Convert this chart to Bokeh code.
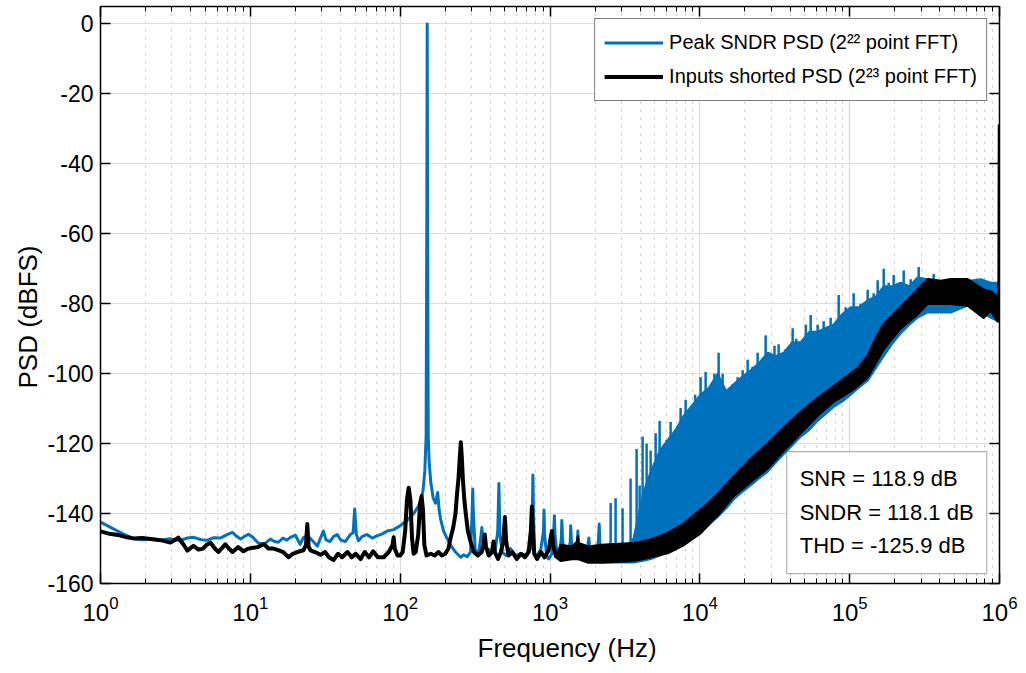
from bokeh.plotting import figure
from bokeh.models import (Range1d, FixedTicker, LogTickFormatter, LogAxis, LinearAxis,
                          Legend, LegendItem, BoxAnnotation, Label, Title,
                          CustomJSTickFormatter)
from bokeh.embed import file_html
from bokeh.resources import INLINE

FONT = "Liberation Sans"
BLUE = "#0072BD"
BLACK = "#000000"

# ---------------- data ----------------
# Peak SNDR PSD (2^22 point FFT) - low-frequency trace
sndr_hz = [1.0, 1.15, 1.3, 1.5, 1.67, 1.9, 2.2, 2.5, 2.9, 3.4, 3.8, 4.2, 4.7, 5.2, 5.7, 6.3,
           7.0, 7.6, 8.1, 8.6, 9.2, 9.7, 10.4, 11.2, 12.3, 13.6, 14.5, 15.4, 16.5, 17.5,
           18.5, 20.0, 21.5, 22.5, 24.0, 26.0, 28.0, 30.7, 32.0, 34.0, 36.0, 38.0, 40.0,
           43.0, 46.5, 48.5, 49.7, 51.0, 52.7, 56.0, 60.0, 65.0, 70.0, 76.0, 82.0, 90.5,
           100, 111, 123, 132, 137, 142, 146, 149, 150.5, 151.5, 152.5, 154, 156, 160,
           166, 172, 178, 182, 186, 195, 205, 217, 234, 254, 265, 280, 295, 302, 305,
           308, 317, 335, 345, 351, 357, 372, 400, 430, 448, 456, 463, 480, 510, 545,
           590, 640, 700, 745, 762, 769, 776, 790, 826, 870, 905, 912, 920, 950, 980,
           1030, 1060, 1070, 1080, 1120, 1160, 1190, 1200, 1215, 1270, 1330, 1365, 1375,
           1390, 1440, 1500, 1525, 1535, 1550, 1620, 1700, 1780, 1817, 1850, 1950, 2050,
           2100, 2130, 2160, 2180]
sndr_db = [-142.4, -143.8, -145.0, -146.3, -147.2, -147.5, -147.3, -147.6, -147.2, -147.7,
           -147.0, -146.8, -147.5, -147.6, -146.9, -147.0, -146.0, -145.4, -146.5, -147.3,
           -146.5, -145.9, -146.8, -148.3, -148.8, -147.3, -148.0, -148.2, -147.0, -147.6,
           -146.8, -146.2, -148.8, -147.0, -146.2, -147.8, -149.3, -145.0, -147.5, -148.0,
           -146.5, -146.0, -147.5, -148.0, -146.0, -145.5, -138.7, -146.0, -147.8, -146.5,
           -146.0, -147.0, -146.4, -145.8, -145.0, -144.6, -143.5, -142.0, -140.0, -138.0,
           -136.4, -133.5, -128.0, -118.0, -60.0, 0.0, -60.0, -118.0, -125.0, -131.0,
           -135.5, -137.0, -134.0, -139.0, -141.5, -145.0, -147.0, -149.0, -151.0, -152.5,
           -151.8, -152.3, -151.0, -140.0, -133.0, -140.0, -150.5, -151.0, -147.0, -144.0,
           -148.0, -150.0, -150.5, -151.0, -145.0, -131.4, -146.0, -151.0, -152.0, -150.0,
           -152.0, -151.5, -152.0, -150.0, -140.0, -129.0, -140.0, -151.5, -152.0, -150.0,
           -145.0, -139.0, -146.0, -152.0, -153.0, -151.5, -145.0, -140.6, -146.0, -152.5,
           -151.5, -147.0, -142.0, -148.0, -152.5, -151.0, -148.0, -143.5, -148.0, -152.5,
           -151.0, -149.0, -145.0, -149.0, -153.0, -152.0, -150.0, -147.0, -151.0, -153.0,
           -151.5, -148.0, -143.0, -151.0, -153.0]

# Peak SNDR PSD - high-frequency part: dense noise region (top / bottom edge)
sndr_fill_hz = [2180, 3000, 3615, 4200, 4700, 5400, 6100, 6900, 7800, 8900, 10100, 11500,
                13150, 15000, 16800, 19000, 21800, 24800, 28400, 32000, 36300, 41500, 47100,
                54000, 61100, 69000, 78100, 89000, 101500, 115000, 131800, 149000, 168600,
                192000, 219000, 250000, 284000, 331600, 404900, 472400, 613400, 748900,
                873700, 972800, 1000000]
sndr_fill_top = [-152, -151, -147, -134, -128, -122, -119, -116, -112, -109, -106, -104,
                 -100, -105, -103, -101, -99, -97, -94, -95, -94, -91, -91, -88, -88, -87,
                 -86, -83, -81, -81, -79, -78, -75, -75, -74, -75, -72.5, -73, -73.5, -74,
                 -73.5, -73, -74, -74, -75]
sndr_fill_bot = [-154, -154, -154, -153.5, -153, -152, -150.5, -149.5, -148, -146.5, -145,
                 -143, -141, -138.5, -136, -134, -132, -130, -128, -125.5, -123, -120.5,
                 -118, -116, -113.5, -111.5, -109.5, -108, -106, -104, -102, -98.5, -95,
                 -91.5, -88.5, -86, -84, -82.5, -82.5, -82.5, -80.5, -82.5, -84, -85, -85]

# Peak SNDR PSD - spurs rising out of the noise region (Hz, top dBFS, foot dBFS)
spur_hz = [2540, 2740, 3050, 3450, 3785, 3965, 4150, 4415, 4695, 5070, 5390, 5646, 6000,
           6385, 6788, 7100, 7443, 7797, 8039, 8682, 9300, 10123, 10932, 11808, 12500,
           13350, 14195, 16560, 17880, 19310, 20850, 22520, 24310, 25850, 27500, 29690,
           31500, 33570, 37400, 41650, 44000, 51000, 54920, 61150, 67060, 74670, 84460,
           94030, 106300, 118400, 131900, 144600, 153800, 168700, 182100, 196700, 229400,
           255500, 288800, 363700]
spur_top = [-137, -135.6, -138.5, -130, -121.5, -132, -118, -120, -122, -117, -113.5,
            -122, -119, -113.8, -120, -115, -109.8, -115, -107.5, -112, -106, -101, -99.5,
            -104, -100, -94, -100, -103, -101, -99, -96, -98, -94, -97, -89, -94, -92,
            -91.6, -93, -87, -90, -86, -83.2, -86, -85, -84, -77.5, -81, -77, -80, -76,
            -77, -73.3, -70, -74, -71.8, -70.5, -73, -69.5, -71.5]
spur_foot = [-152, -152, -152, -150, -149, -146, -145, -142, -138, -135, -133, -132, -130,
             -129, -127, -126, -124, -122, -121, -119, -117, -116, -114, -113, -111, -110,
             -110, -110, -108, -107, -105, -104, -103, -102, -101, -100, -99, -98, -97,
             -96, -95, -94, -93, -92, -91, -90, -89, -88, -86, -85, -84, -83, -82, -81,
             -80, -79, -78, -78, -77, -76]

# Inputs shorted PSD (2^23 point FFT) - low-frequency trace
short_hz = [1.0, 1.15, 1.3, 1.5, 1.66, 1.9, 2.16, 2.52, 2.93, 3.31, 3.6, 3.8, 4.17, 4.5,
            4.8, 5.1, 5.42, 5.8, 6.13, 6.8, 7.2, 7.6, 8.3, 9.0, 9.6, 10.4, 11.2, 12.3,
            13.2, 14.3, 15.5, 16.6, 17.3, 18.0, 19.2, 20.6, 22.6, 23.5, 24.0, 24.5, 25.2,
            27.0, 29.4, 31.5, 33.5, 35.9, 38.5, 41.0, 44.5, 47.5, 50.5, 54.5, 58.0, 62.0,
            66.0, 71.0, 77.5, 84.0, 89.0, 90.5, 92.0, 96.0, 100, 104, 108, 111, 114, 117,
            120, 123, 127, 132, 136, 139, 142, 145, 150, 160, 170, 180, 190, 200, 210,
            217, 226, 234, 240, 245, 250, 254, 258, 262, 268, 274, 283, 295, 310, 330,
            350, 360, 367, 374, 390, 410, 420, 428, 450, 470, 488, 500, 510, 530, 560,
            600, 640, 680, 720, 745, 757, 768, 785, 820, 870, 920, 980, 1010, 1030, 1050,
            1100]
short_db = [-145.1, -145.8, -146.1, -146.8, -147.1, -147.0, -147.3, -147.6, -148.3, -146.9,
            -149.0, -150.6, -149.2, -150.3, -150.1, -149.0, -148.3, -150.0, -151.0, -148.8,
            -150.0, -151.0, -149.6, -150.8, -150.1, -149.8, -149.6, -148.7, -150.0, -150.0,
            -150.5, -151.0, -151.8, -152.5, -151.5, -151.0, -150.5, -149.0, -143.0, -149.5,
            -150.5, -151.0, -151.8, -151.0, -152.5, -153.3, -151.5, -152.5, -151.0, -152.5,
            -151.5, -153.0, -151.0, -152.5, -150.8, -152.5, -152.5, -151.0, -149.0, -146.8,
            -150.0, -152.0, -152.0, -151.0, -145.0, -136.0, -132.6, -136.0, -147.0, -151.5,
            -151.0, -146.0, -137.0, -135.0, -139.0, -149.0, -152.0, -151.5, -152.0, -151.0,
            -152.0, -151.5, -150.0, -147.0, -144.0, -140.0, -134.0, -130.0, -124.0, -119.6,
            -124.0, -130.0, -136.0, -140.0, -145.0, -148.0, -151.0, -152.0, -151.0, -149.0,
            -146.0, -149.5, -152.0, -151.0, -148.0, -151.0, -153.0, -151.0, -148.0, -141.0,
            -148.0, -152.0, -151.0, -153.0, -151.5, -152.5, -151.0, -145.0, -138.0, -145.0,
            -151.5, -153.0, -151.0, -152.5, -150.5, -147.0, -145.0, -149.0, -152.5]

# Inputs shorted PSD - high-frequency band (lower / upper edge), tone near 1 MHz
short_band_hz = [1100, 1178, 1400, 1520, 1535, 1550, 1800, 2180, 3610, 4700, 6100, 7800,
                 10100, 13150, 16800, 21800, 28400, 36300, 47100, 61100, 78100, 101500,
                 113000, 131800, 149000, 168600, 219000, 284000, 331600, 404900, 472000,
                 613000, 784600, 873700, 972000, 986000, 992000, 998000, 1000000]
short_band_lo = [-152.5, -153.5, -153, -153, -153, -153, -154, -154, -153.5, -152.5,
                 -151.3, -149, -145.6, -140.5, -135, -131, -127, -122, -117, -112, -108,
                 -105, -103.5, -101, -97, -93, -87, -83, -80, -80, -80, -80.5, -84, -82,
                 -85, -85, -85, -85, -85]
short_band_hi = [-152.5, -149, -149.5, -148, -146.5, -148.5, -149.5, -149, -148.5, -147.5,
                 -145.6, -143, -139, -134.5, -129.5, -124.5, -120, -115.5, -111, -107,
                 -103.7, -100, -98.5, -95, -90, -86, -81, -76, -73, -73.5, -73, -73, -76,
                 -76.5, -78, -79, -29, -80, -80]

series_names = ["Peak SNDR PSD (2\u00b2\u00b2 point FFT)",
                "Inputs shorted PSD (2\u00b2\u00b3 point FFT)"]
stats_lines = ["SNR = 118.9 dB", "SNDR = 118.1 dB", "THD = -125.9 dB"]
x_title = "Frequency (Hz)"
y_title = "PSD (dBFS)"

x_major = [1, 10, 100, 1e3, 1e4, 1e5, 1e6]
x_minor = [m * d for d in x_major[:-1] for m in range(2, 10)]
y_major = list(range(-160, 1, 20))

# ---------------- figure ----------------
p = figure(width=1026, height=673, x_axis_type="log",
           x_range=Range1d(1, 1e6), y_range=Range1d(-160, 5),
           output_backend="svg", toolbar_location=None,
           min_border_left=100, min_border_right=27, min_border_top=6,
           min_border_bottom=90, background_fill_color="white",
           border_fill_color="white", outline_line_color=None)

# blue series
r_blue = p.line(sndr_hz, sndr_db, line_color=BLUE, line_width=3, line_join="round")
p.patch(sndr_fill_hz + sndr_fill_hz[::-1], sndr_fill_top + sndr_fill_bot[::-1],
        fill_color=BLUE, line_color=BLUE, line_width=2, line_join="round")
p.segment(x0=spur_hz, y0=spur_foot, x1=spur_hz, y1=spur_top,
          line_color=BLUE, line_width=2.5)
# black series
r_black = p.line(short_hz, short_db, line_color=BLACK, line_width=4, line_join="round")
p.patch(short_band_hz + short_band_hz[::-1], short_band_hi + short_band_lo[::-1],
        fill_color=BLACK, line_color=BLACK, line_width=2.5, line_join="round")

# axes
xt = FixedTicker(ticks=x_major, minor_ticks=x_minor)
yt = FixedTicker(ticks=y_major)
p.xaxis.ticker = xt
p.xaxis.formatter = LogTickFormatter()
p.yaxis.ticker = yt
p.yaxis.formatter = CustomJSTickFormatter(code="return tick.toFixed(0)")

for ax in (p.xaxis[0], p.yaxis[0]):
    ax.axis_line_color = "black"
    ax.axis_line_width = 1.5
    ax.major_tick_line_color = "black"
    ax.major_tick_line_width = 1.5
    ax.minor_tick_line_color = "black"
    ax.major_tick_in = 10
    ax.major_tick_out = 0
    ax.minor_tick_out = 0
    ax.major_label_text_font = FONT
    ax.major_label_text_color = "black"

p.xaxis.minor_tick_in = 5
p.yaxis.minor_tick_in = 0
p.xaxis.major_label_text_font_size = "24px"
p.yaxis.major_label_text_font_size = "23px"
p.xaxis.major_label_standoff = 12
p.yaxis.major_label_standoff = 7

blank = CustomJSTickFormatter(code="return ''")
top = LogAxis(ticker=xt, formatter=blank, major_tick_in=10, major_tick_out=0,
              minor_tick_in=5, minor_tick_out=0, major_label_standoff=0,
              axis_line_color="black", axis_line_width=1.5,
              major_tick_line_color="black", major_tick_line_width=1.5,
              minor_tick_line_color="black", major_label_text_font_size="0px")
right = LinearAxis(ticker=yt, formatter=blank, major_tick_in=10, major_tick_out=0,
                   minor_tick_in=0, minor_tick_out=0, major_label_standoff=0,
                   axis_line_color="black", axis_line_width=1.5,
                   major_tick_line_color="black", major_tick_line_width=1.5,
                   major_label_text_font_size="0px")
p.add_layout(top, "above")
p.add_layout(right, "right")

# axis titles (the reference sets them a little off the frame centre)
p.add_layout(Title(text=x_title, align="left", offset=377, standoff=14,
                   text_font=FONT, text_font_size="26px", text_font_style="normal",
                   text_color="black"), "below")
p.add_layout(Title(text=y_title, align="left", offset=195, standoff=4,
                   text_font=FONT, text_font_size="26px", text_font_style="normal",
                   text_color="black"), "left")

# grids
p.xgrid.grid_line_color = "#dcdcdc"
p.ygrid.grid_line_color = "#dcdcdc"
p.xgrid.grid_line_width = 1.2
p.ygrid.grid_line_width = 1.2
p.xgrid.minor_grid_line_color = "#bdbdbd"
p.xgrid.minor_grid_line_dash = "2 6"
p.xgrid.minor_grid_line_width = 1

# legend
legend = Legend(items=[LegendItem(label=series_names[0], renderers=[r_blue]),
                       LegendItem(label=series_names[1], renderers=[r_black])],
                location="top_right", margin=12, padding=9, spacing=5,
                glyph_width=59, glyph_height=29, label_height=29, label_standoff=6,
                label_text_font=FONT, label_text_font_size="20px",
                label_text_color="black", border_line_color="black",
                border_line_width=1.2, background_fill_color="white",
                background_fill_alpha=1.0)
p.add_layout(legend)

# statistics box
p.add_layout(BoxAnnotation(left=38000, right=822000, top=-122.3, bottom=-157.2,
                           fill_color="white", fill_alpha=1.0, line_color="black",
                           line_width=1.2))
for txt, yv in zip(stats_lines, [-130.0, -139.6, -149.1]):
    p.add_layout(Label(x=46400, y=yv, text=txt, text_font=FONT, text_font_size="22px",
                       text_baseline="middle", text_align="left", text_color="black"))

open("out.html", "w").write(file_html(p, INLINE))
